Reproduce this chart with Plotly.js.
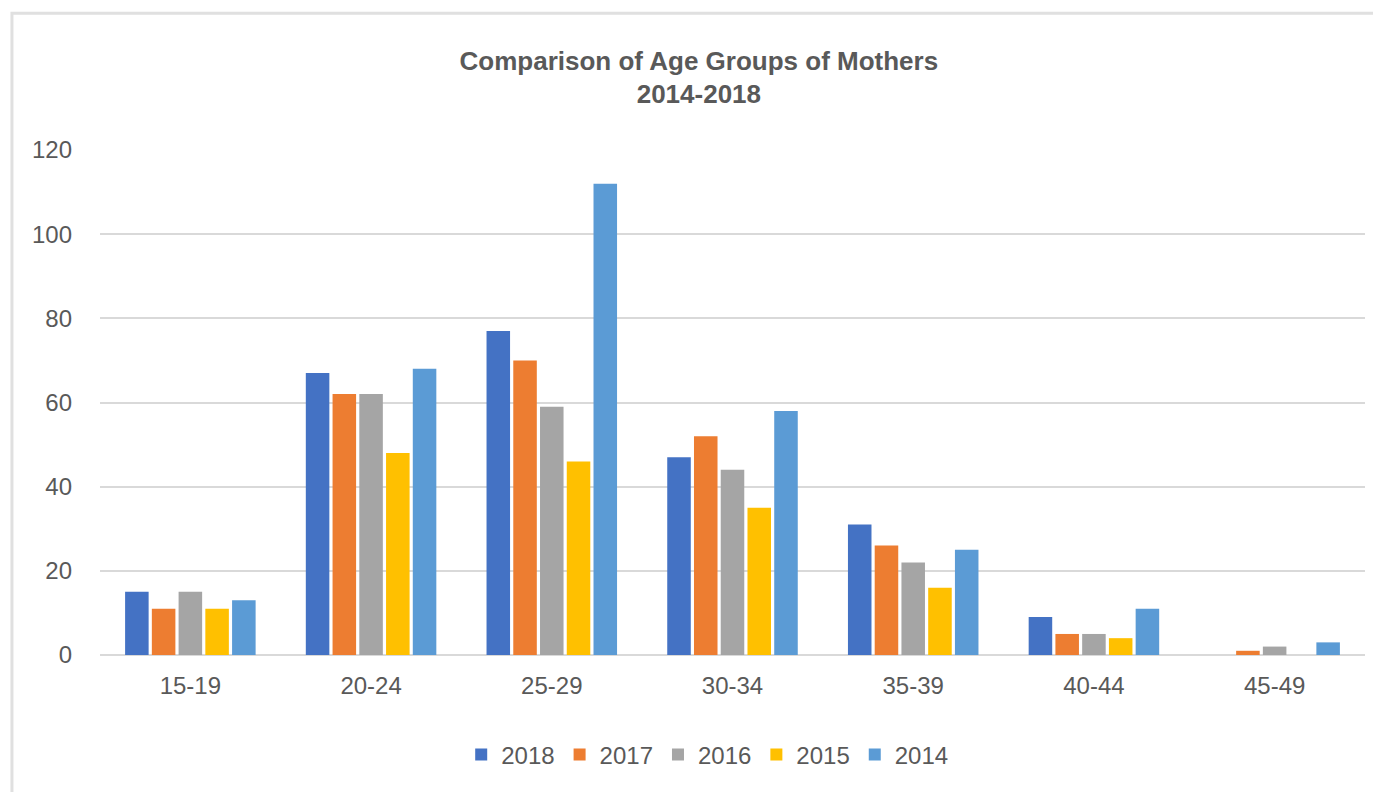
<!DOCTYPE html>
<html>
<head>
<meta charset="utf-8">
<script src="https://cdn.plot.ly/plotly-3.0.1.min.js"></script>
<style>html,body{margin:0;padding:0;background:#fff;}#chart{width:1373px;height:792px;}</style>
</head>
<body>
<div id="chart"></div>
<script>
const categories = ["15-19", "20-24", "25-29", "30-34", "35-39", "40-44", "45-49"];
const seriesNames = ["2018", "2017", "2016", "2015", "2014"];
const v2018 = [15, 67, 77, 47, 31, 9, 0];
const v2017 = [11, 62, 70, 52, 26, 5, 1];
const v2016 = [15, 62, 59, 44, 22, 5, 2];
const v2015 = [11, 48, 46, 35, 16, 4, 0];
const v2014 = [13, 68, 112, 58, 25, 11, 3];
const colors = ["#4472C4", "#ED7D31", "#A5A5A5", "#FFC000", "#5B9BD5"];
const allValues = [v2018, v2017, v2016, v2015, v2014];

const traces = allValues.map((vals, i) => ({
  type: "bar",
  name: seriesNames[i],
  x: categories,
  y: vals,
  marker: {color: colors[i]},
  hoverinfo: "x+y+name"
}));

const font = "'Liberation Sans', Arial, sans-serif";
const layout = {
  width: 1373, height: 792,
  margin: {l: 100, r: 8, t: 150, b: 137},
  paper_bgcolor: "#fff", plot_bgcolor: "#fff",
  font: {family: font, color: "#595959", size: 24},
  title: {
    text: "<b>Comparison of Age Groups of Mothers<br>2014-2018</b>",
    x: 0.509, xanchor: "center", y: 0.912, yanchor: "middle",
    font: {family: font, size: 26, color: "#595959", lineposition: "none"}
  },
  barmode: "group",
  bargap: 0.26,
  bargroupgap: 0.12,
  xaxis: {
    type: "category",
    showgrid: false, zeroline: false, showline: false,
    ticks: "", ticklabelstandoff: 14,
    tickfont: {size: 24, color: "#595959"}
  },
  yaxis: {
    range: [0, 120], dtick: 20, tick0: 0,
    showgrid: true, gridcolor: "#d9d9d9", gridwidth: 1.5,
    zeroline: true, zerolinecolor: "#d9d9d9", zerolinewidth: 1.5,
    showline: false, ticks: "", ticklabelstandoff: 27,
    tickfont: {size: 24, color: "#595959"}
  },
  showlegend: true,
  legend: {
    orientation: "h", x: 0.48, xanchor: "center", y: -0.198, yanchor: "middle",
    font: {size: 24, color: "#595959"}, traceorder: "normal",
    itemwidth: 30
  },
  shapes: [{
    type: "rect", xref: "paper", yref: "paper",
    x0: -0.0696, x1: 1.02, y0: -0.4, y1: 1.271,
    line: {color: "#e0e0e0", width: 3}, fillcolor: "rgba(0,0,0,0)", layer: "below"
  }]
};

Plotly.newPlot("chart", traces, layout, {displayModeBar: false, responsive: false});
</script>
</body>
</html>
